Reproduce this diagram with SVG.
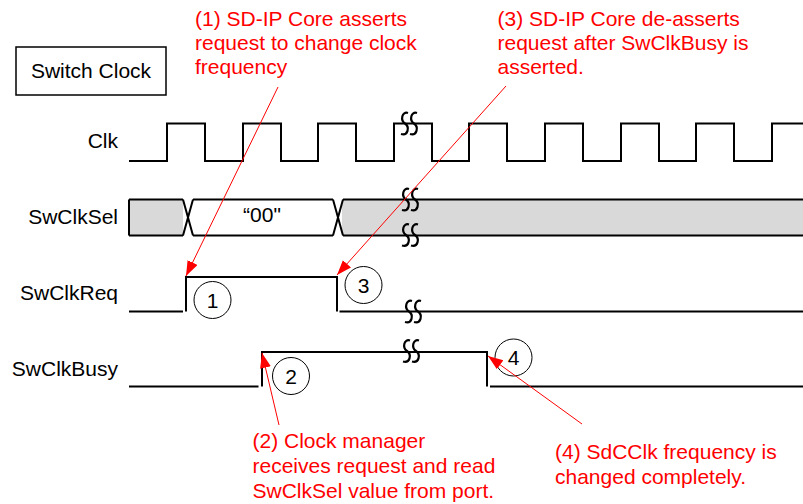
<svg xmlns="http://www.w3.org/2000/svg" width="803" height="504" viewBox="0 0 803 504">
<style>
.lbl{font-family:"Liberation Sans",Arial,sans-serif;font-size:21px;fill:#000}
.red{font-family:"Liberation Sans",Arial,sans-serif;font-size:21px;fill:#ff0000}
.sig{fill:none;stroke:#000;stroke-width:2}
.brk{fill:none;stroke:#000;stroke-width:2.2}
.circ{fill:none;stroke:#000;stroke-width:1}
.num{font-family:"Liberation Sans",Arial,sans-serif;font-size:21px;fill:#000;text-anchor:middle}
.arr{stroke:#ff0000;stroke-width:1;fill:none;marker-end:url(#ah)}
</style>
<defs>
<marker id="ah" markerUnits="userSpaceOnUse" markerWidth="16" markerHeight="12" refX="15" refY="5.5" orient="auto">
<path d="M0,0 L15,5.5 L0,11 z" fill="#ff0000"/>
</marker>
<path id="sq" d="M7,1 C1,-1 -1,8 4,11.5 C9,15 7,24 0,22 M16,1 C10,-1 8,8 13,11.5 C18,15 16,24 9,22"/>
</defs>
<rect width="803" height="504" fill="#fff"/>

<g id="title">
<rect x="16" y="47" width="150" height="48" fill="#fff" stroke="#000" stroke-width="1.5"/>
<text class="lbl" x="91" y="78" text-anchor="middle">Switch Clock</text>
</g>

<g id="clk">
<text class="lbl" x="118" y="148" text-anchor="end">Clk</text>
<path class="sig" d="M129,161 H167 V123.5 H205 V161 H243 V123.5 H281 V161 H318 V123.5 H356 V161 H394 V123.5 H432 V161 H469 V123.5 H507 V161 H545 V123.5 H583 V161 H621 V123.5 H659 V161 H696 V123.5 H734 V161 H772 V123.5 H803"/>
<use href="#sq" class="brk" x="401" y="112"/>
</g>

<g id="swclksel">
<text class="lbl" x="118" y="224" text-anchor="end">SwClkSel</text>
<rect x="129" y="199.5" width="54" height="36" fill="#d9d9d9"/>
<rect x="342" y="199.5" width="461" height="36" fill="#d9d9d9"/>
<path class="sig" d="M129,199.5 H183 M129,235.5 H183 M129,199.5 V235.5 M183,199.5 L193,235.5 M183,235.5 L193,199.5 M193,199.5 H333 M193,235.5 H333 M333,199.5 L343,235.5 M333,235.5 L343,199.5 M343,199.5 H803 M343,235.5 H803"/>
<text class="lbl" x="262" y="222" text-anchor="middle">“00"</text>
<use href="#sq" class="brk" x="402" y="188"/>
<use href="#sq" class="brk" x="402" y="223.5"/>
</g>

<g id="swclkreq">
<text class="lbl" x="118" y="300" text-anchor="end">SwClkReq</text>
<path class="sig" d="M129,311.5 H183 M186,311.5 V277 H337 V311.5 M339.5,311.5 H803"/>
<use href="#sq" class="brk" x="405" y="300"/>
</g>

<g id="swclkbusy">
<text class="lbl" x="118" y="376" text-anchor="end">SwClkBusy</text>
<path class="sig" d="M129,386.5 H258.5 M262,386.5 V352 H487 V386.5 M490,386.5 H803"/>
<use href="#sq" class="brk" x="403" y="339.5"/>
</g>

<g id="c1"><circle class="circ" cx="212.5" cy="300" r="18.5"/><text class="num" x="212.5" y="307.5">1</text></g>
<g id="c2"><circle class="circ" cx="291" cy="376" r="18.5"/><text class="num" x="291" y="383.5">2</text></g>
<g id="c3"><circle class="circ" cx="363.5" cy="285" r="18.5"/><text class="num" x="363.5" y="292.5">3</text></g>
<g id="c4"><circle class="circ" cx="513.5" cy="357.5" r="18.5"/><text class="num" x="513.5" y="365">4</text></g>

<g id="note1">
<text class="red" x="195" y="26">(1) SD-IP Core asserts</text>
<text class="red" x="195" y="50">request to change clock</text>
<text class="red" x="195" y="74">frequency</text>
</g>
<g id="note3">
<text class="red" x="497.5" y="26">(3) SD-IP Core de-asserts</text>
<text class="red" x="497.5" y="50">request after SwClkBusy is</text>
<text class="red" x="497.5" y="74">asserted.</text>
</g>
<g id="note2">
<text class="red" x="252.5" y="448">(2) Clock manager</text>
<text class="red" x="252.5" y="473">receives request and read</text>
<text class="red" x="252.5" y="498">SwClkSel value from port.</text>
</g>
<g id="note4">
<text class="red" x="555" y="459">(4) SdCClk frequency is</text>
<text class="red" x="555" y="483.5">changed completely.</text>
</g>

<g id="connectors">
<line class="arr" x1="278" y1="87" x2="186" y2="276"/>
<line class="arr" x1="506" y1="86" x2="337" y2="275"/>
<line class="arr" x1="279" y1="425" x2="262" y2="353"/>
<line class="arr" x1="582" y1="424" x2="488" y2="356"/>
</g>
</svg>
